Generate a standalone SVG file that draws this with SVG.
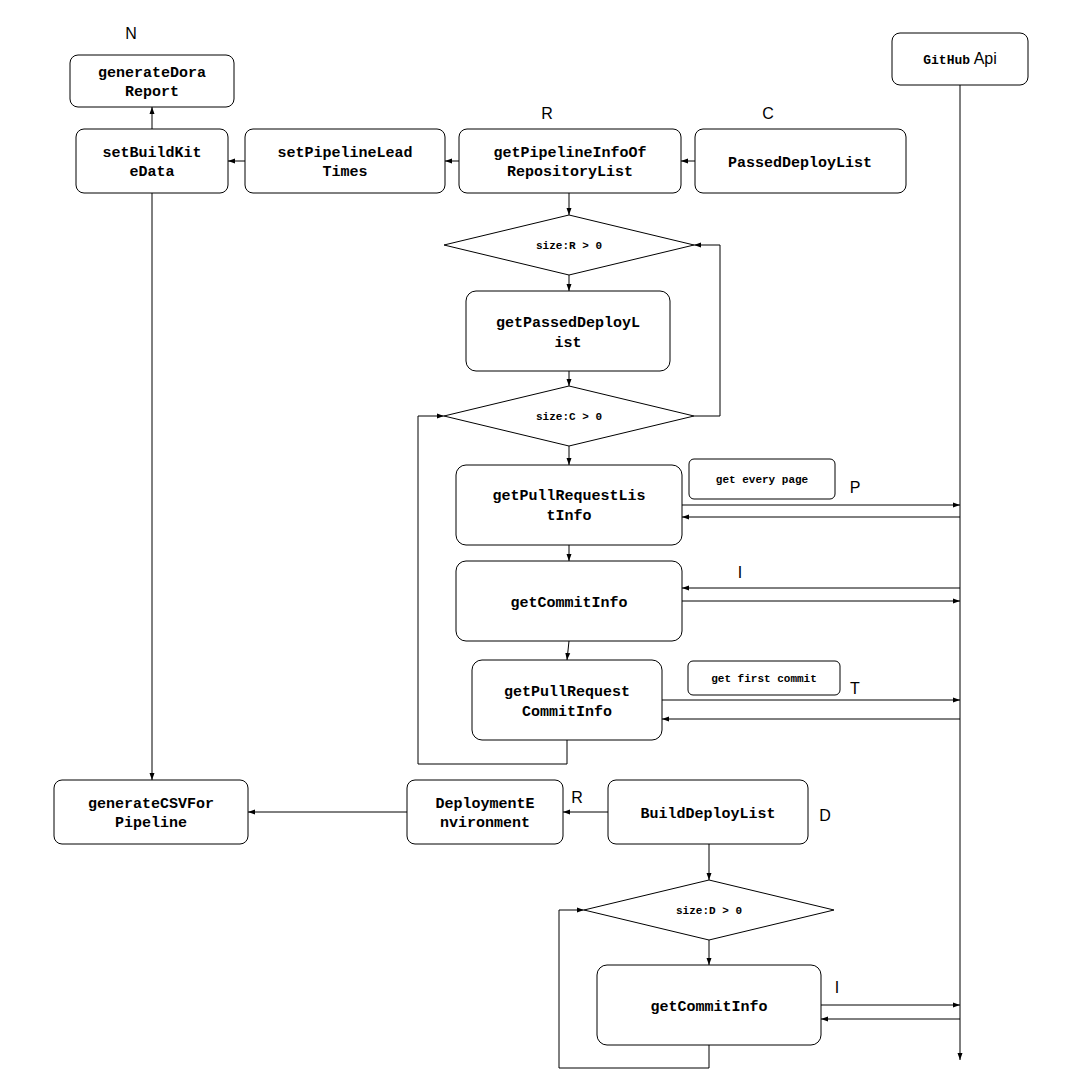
<svg xmlns="http://www.w3.org/2000/svg" width="1066" height="1092" viewBox="0 0 1066 1092">
<style>
.n{fill:#fff;stroke:#000;stroke-width:1}
.t{font-family:"Liberation Mono",monospace;font-weight:bold;font-size:15px;text-anchor:middle}
.s{font-family:"Liberation Mono",monospace;font-weight:bold;font-size:11px;text-anchor:middle}
.l{font-family:"Liberation Sans",sans-serif;font-size:16px;text-anchor:middle}
.c{fill:none;stroke:#000;stroke-width:1;marker-end:url(#a)}
</style>
<defs><marker id="a" markerWidth="8" markerHeight="8" refX="7" refY="4" orient="auto" markerUnits="userSpaceOnUse"><path d="M0,1.5 L7,4 L0,6.5 Z"/></marker></defs>
<rect width="1066" height="1092" fill="#fff"/>
<g id="labels">
<text class="l" x="131" y="39">N</text><text class="l" x="547" y="119">R</text><text class="l" x="768" y="119">C</text>
<text class="l" x="855" y="493">P</text><text class="l" x="740" y="578">I</text><text class="l" x="855" y="694">T</text>
<text class="l" x="577" y="803">R</text><text class="l" x="825" y="821">D</text><text class="l" x="837" y="993">I</text>
</g>
<g id="connectors">
<path class="c" d="M960,85 V1060"/>
<path class="c" d="M152,129 V107"/>
<path class="c" d="M245,161 H228"/>
<path class="c" d="M459,161 H445"/>
<path class="c" d="M695,161 H681"/>
<path class="c" d="M569,193 V215"/>
<path class="c" d="M569,275 V291"/>
<path class="c" d="M569,371 V386"/>
<path class="c" d="M694,416 H720 V245 H694"/>
<path class="c" d="M569,446 V465"/>
<path class="c" d="M569,545 V561"/>
<path class="c" d="M569,641 L567,660"/>
<path class="c" d="M567,740 V764 H418 V416 H444"/>
<path class="c" d="M682,505 H960"/><path class="c" d="M960,517 H682"/>
<path class="c" d="M960,588 H682"/><path class="c" d="M682,601 H960"/>
<path class="c" d="M662,700 H960"/><path class="c" d="M960,719 H662"/>
<path class="c" d="M152,193 V780"/>
<path class="c" d="M407,812 H248"/>
<path class="c" d="M608,812 H563"/>
<path class="c" d="M709,844 V880"/>
<path class="c" d="M709,940 V965"/>
<path class="c" d="M709,1045 V1068 H559 V910 H584"/>
<path class="c" d="M821,1005 H960"/><path class="c" d="M960,1019 H821"/>
</g>
<g id="generateDoraReport"><rect class="n" x="70" y="55" width="164" height="52" rx="8"/><text class="t" x="152" y="77">generateDora</text><text class="t" x="152" y="96">Report</text></g>
<g id="githubApi"><rect class="n" x="892" y="33" width="136" height="52" rx="8"/><text x="960" y="64" text-anchor="middle"><tspan font-family="Liberation Mono,monospace" font-weight="bold" font-size="13">GitHub</tspan><tspan font-family="Liberation Sans,sans-serif" font-size="16"> Api</tspan></text></g>
<g id="setBuildKiteData"><rect class="n" x="76" y="129" width="152" height="64" rx="8"/><text class="t" x="152" y="157">setBuildKit</text><text class="t" x="152" y="176">eData</text></g>
<g id="setPipelineLeadTimes"><rect class="n" x="245" y="129" width="200" height="64" rx="8"/><text class="t" x="345" y="157">setPipelineLead</text><text class="t" x="345" y="176">Times</text></g>
<g id="getPipelineInfo"><rect class="n" x="459" y="129" width="222" height="64" rx="8"/><text class="t" x="570" y="157">getPipelineInfoOf</text><text class="t" x="570" y="176">RepositoryList</text></g>
<g id="PassedDeployList"><rect class="n" x="695" y="129" width="211" height="64" rx="8"/><text class="t" x="800" y="167">PassedDeployList</text></g>
<g id="sizeR"><path class="n" d="M444,245 L569,215 L694,245 L569,275 Z"/><text class="s" x="569" y="249" font-size="13">size:R &gt; 0</text></g>
<g id="getPassedDeployList"><rect class="n" x="466" y="291" width="204" height="80" rx="10"/><text class="t" x="568" y="327">getPassedDeployL</text><text class="t" x="568" y="347">ist</text></g>
<g id="sizeC"><path class="n" d="M444,416 L569,386 L694,416 L569,446 Z"/><text class="s" x="569" y="420" font-size="13">size:C &gt; 0</text></g>
<g id="getPullRequestListInfo"><rect class="n" x="456" y="465" width="226" height="80" rx="10"/><text class="t" x="569" y="500">getPullRequestLis</text><text class="t" x="569" y="520">tInfo</text></g>
<g id="getEveryPage"><rect class="n" x="689" y="459" width="146" height="40" rx="5"/><text class="s" x="762" y="483">get every page</text></g>
<g id="getCommitInfo1"><rect class="n" x="456" y="561" width="226" height="80" rx="10"/><text class="t" x="569" y="607">getCommitInfo</text></g>
<g id="getPullRequestCommitInfo"><rect class="n" x="472" y="660" width="190" height="80" rx="10"/><text class="t" x="567" y="696">getPullRequest</text><text class="t" x="567" y="716">CommitInfo</text></g>
<g id="getFirstCommit"><rect class="n" x="688" y="661" width="152" height="34" rx="5"/><text class="s" x="764" y="682">get first commit</text></g>
<g id="generateCSVForPipeline"><rect class="n" x="54" y="780" width="194" height="64" rx="8"/><text class="t" x="151" y="808">generateCSVFor</text><text class="t" x="151" y="827">Pipeline</text></g>
<g id="DeploymentEnvironment"><rect class="n" x="407" y="780" width="156" height="64" rx="8"/><text class="t" x="485" y="808">DeploymentE</text><text class="t" x="485" y="827">nvironment</text></g>
<g id="BuildDeployList"><rect class="n" x="608" y="780" width="200" height="64" rx="8"/><text class="t" x="708" y="818">BuildDeployList</text></g>
<g id="sizeD"><path class="n" d="M584,910 L709,880 L834,910 L709,940 Z"/><text class="s" x="709" y="914" font-size="13">size:D &gt; 0</text></g>
<g id="getCommitInfo2"><rect class="n" x="597" y="965" width="224" height="80" rx="10"/><text class="t" x="709" y="1011">getCommitInfo</text></g>
</svg>
